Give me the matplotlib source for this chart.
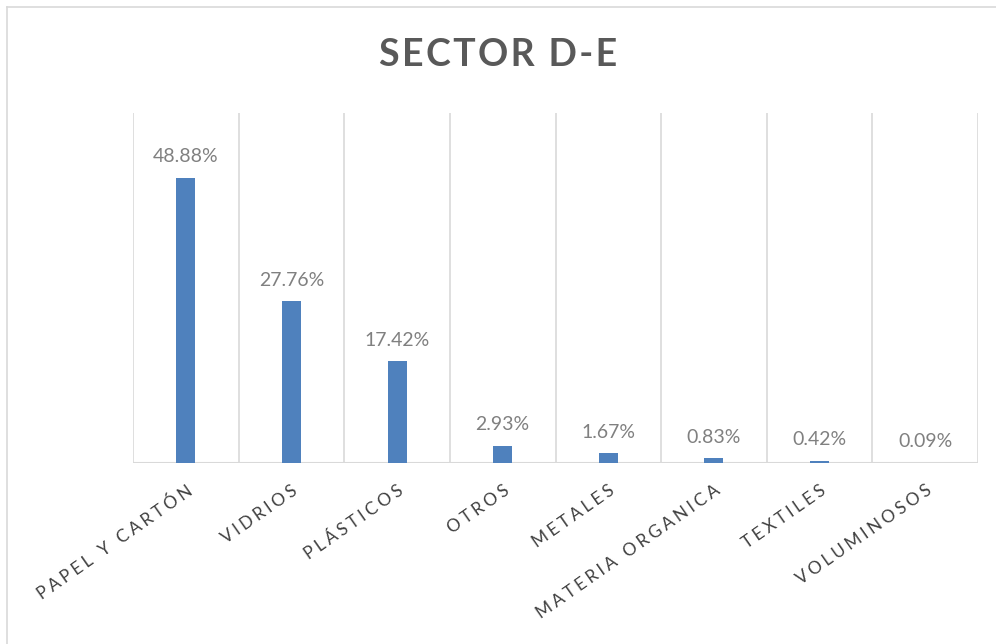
import matplotlib.pyplot as plt
from matplotlib.lines import Line2D

categories = [
    "PAPEL Y CARTÓN",
    "VIDRIOS",
    "PLÁSTICOS",
    "OTROS",
    "METALES",
    "MATERIA ORGANICA",
    "TEXTILES",
    "VOLUMINOSOS",
]
values = [48.88, 27.76, 17.42, 2.93, 1.67, 0.83, 0.42, 0.09]
labels = ["48.88%", "27.76%", "17.42%", "2.93%", "1.67%", "0.83%", "0.42%", "0.09%"]

BAR_COLOR = "#4F81BD"
GRID_COLOR = "#D9D9D9"
FONT = ["Lato", "DejaVu Sans"]


def spaced(s, sep="\u2009"):
    # wide letter spacing like the office chart
    return sep.join(s)


fig = plt.figure(figsize=(9.96, 6.44), dpi=100)
ax = fig.add_axes([0.1335, 0.281, 0.8485, 0.5435])

x = list(range(len(categories)))
ax.bar(x, values, width=0.18, color=BAR_COLOR, zorder=3)

for xi, v, lab in zip(x, values, labels):
    ax.annotate(lab, (xi, v), xytext=(0, 9), textcoords="offset points",
                ha="center", va="bottom", fontsize=14, color="#808080",
                family=FONT)

ax.set_xlim(-0.5, len(categories) - 0.5)
ax.set_ylim(0, 60)

# vertical separators between categories
for b in range(len(categories) + 1):
    ax.axvline(b - 0.5, color=GRID_COLOR, lw=1.2, zorder=1)
ax.axhline(0, color=GRID_COLOR, lw=1.5, zorder=2)

for s in ax.spines.values():
    s.set_visible(False)
ax.set_yticks([])
ax.set_xticks(x)
ax.set_xticklabels([spaced(c, "\u2009\u200a") for c in categories], rotation=35,
                   ha="right", rotation_mode="anchor", fontsize=12.5,
                   color="#404040", family=FONT)
ax.tick_params(axis="x", length=0, pad=14)

fig.text(0.5, 0.915, spaced("SECTOR D-E", "\u200a"), ha="center", va="center",
         fontsize=27, fontweight="bold", color="#595959", family=FONT)

# chart border (top and left visible)
fig.add_artist(Line2D([7 / 996, 1], [1 - 7 / 644] * 2, color=GRID_COLOR,
                      lw=1.2, transform=fig.transFigure))
fig.add_artist(Line2D([7 / 996] * 2, [0, 1 - 7 / 644], color=GRID_COLOR,
                      lw=1.2, transform=fig.transFigure))

fig.savefig("out.png", dpi=100)
